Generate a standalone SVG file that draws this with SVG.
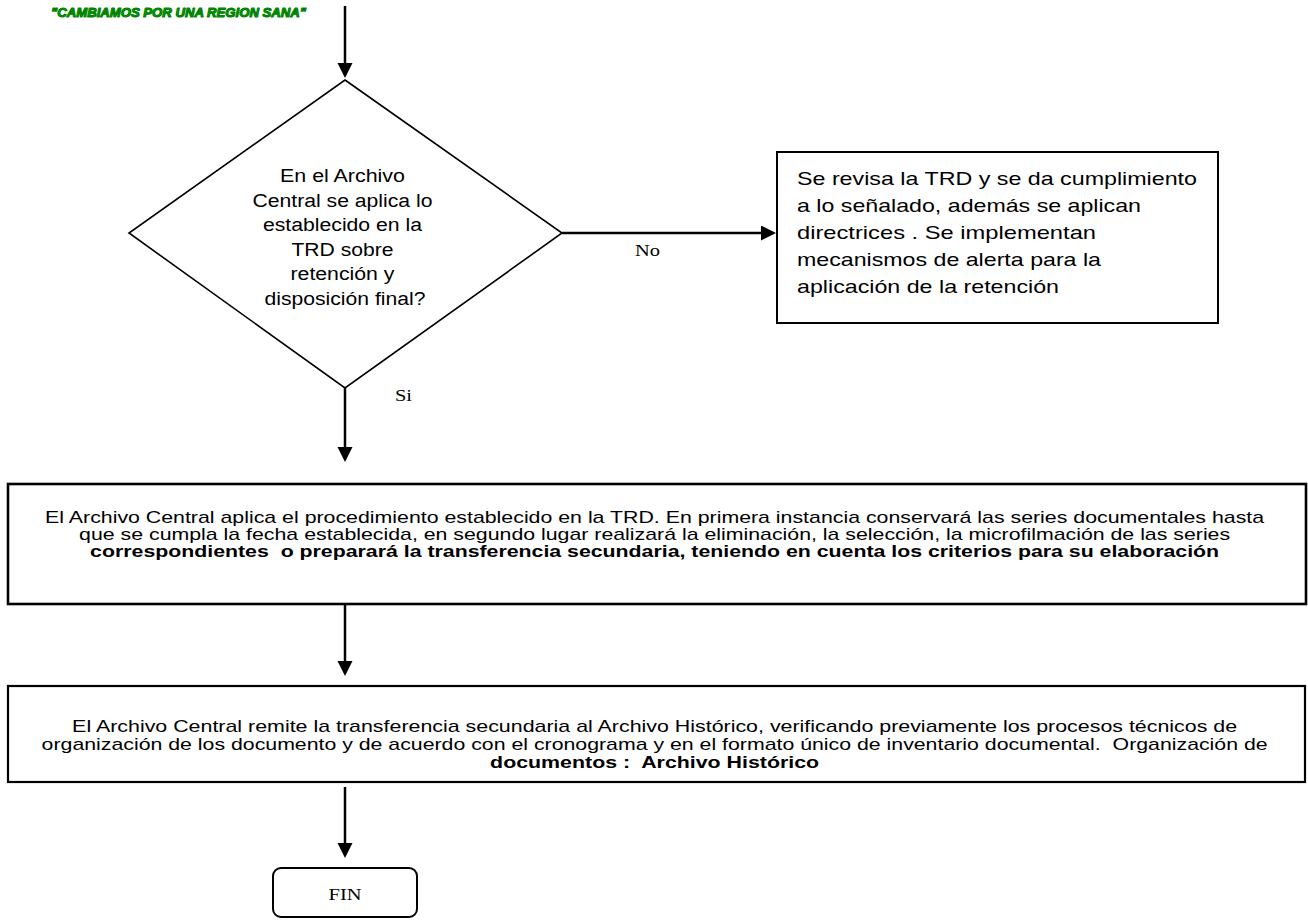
<svg xmlns="http://www.w3.org/2000/svg" width="1308" height="924" viewBox="0 0 1308 924">
<style>
.sans{font-family:"Liberation Sans",Arial,sans-serif;fill:#000}
.serif{font-family:"Liberation Serif","Times New Roman",serif;fill:#000}
.mid{text-anchor:middle}
.b{font-weight:bold}
.box{fill:#fff;stroke:#000}
.conn{stroke:#000;stroke-width:2.5;fill:none}
</style>
<defs>
<marker id="arr" markerUnits="userSpaceOnUse" markerWidth="16" markerHeight="16" refX="12" refY="7.5" orient="auto">
<path d="M0,0 L15,7.5 L0,15 Z" fill="#000"/>
</marker>
</defs>
<rect width="1308" height="924" fill="#fff"/>
<g id="title">
<text x="51" y="17" textLength="255" lengthAdjust="spacingAndGlyphs" style="font-family:'Liberation Sans',Arial,sans-serif;font-weight:bold;font-style:italic;font-size:13px;fill:#00A000;stroke:#008000;stroke-width:1.1;stroke-linejoin:round">"CAMBIAMOS POR UNA REGION SANA"</text>
</g>
<g id="connectors">
<line class="conn" x1="345" y1="6" x2="345" y2="75" marker-end="url(#arr)"/>
<line class="conn" x1="562" y1="233" x2="773" y2="233" marker-end="url(#arr)"/>
<line class="conn" x1="345" y1="388" x2="345" y2="459" marker-end="url(#arr)"/>
<line class="conn" x1="345" y1="604" x2="345" y2="673" marker-end="url(#arr)"/>
<line class="conn" x1="345" y1="787" x2="345" y2="855" marker-end="url(#arr)"/>
<text class="serif" x="635" y="256" font-size="17" textLength="25" lengthAdjust="spacingAndGlyphs">No</text>
<text class="serif" x="395" y="401" font-size="17" textLength="17" lengthAdjust="spacingAndGlyphs">Si</text>
</g>
<g id="decision">
<polygon class="box" stroke-width="1.6" points="345,80 562,233 345,388 129,233"/>
<text class="sans mid" font-size="18">
<tspan x="345" y="182" textLength="125" lengthAdjust="spacingAndGlyphs">En el Archivo</tspan>
<tspan x="345" y="206.5" textLength="180" lengthAdjust="spacingAndGlyphs">Central se aplica lo</tspan>
<tspan x="345" y="231" textLength="159" lengthAdjust="spacingAndGlyphs">establecido en la</tspan>
<tspan x="345" y="255.5" textLength="102" lengthAdjust="spacingAndGlyphs">TRD sobre</tspan>
<tspan x="345" y="280" textLength="104" lengthAdjust="spacingAndGlyphs">retención y</tspan>
<tspan x="345" y="304.5" textLength="161" lengthAdjust="spacingAndGlyphs">disposición final?</tspan>
</text>
</g>
<g id="revision">
<rect class="box" stroke-width="2" x="777" y="152" width="441" height="171"/>
<text class="sans" font-size="19">
<tspan x="797" y="185" textLength="400" lengthAdjust="spacingAndGlyphs">Se revisa la TRD y se da cumplimiento</tspan>
<tspan x="797" y="212" textLength="344" lengthAdjust="spacingAndGlyphs">a lo señalado, además se aplican</tspan>
<tspan x="797" y="239" textLength="299" lengthAdjust="spacingAndGlyphs">directrices .  Se implementan</tspan>
<tspan x="797" y="266" textLength="304" lengthAdjust="spacingAndGlyphs">mecanismos de alerta para la</tspan>
<tspan x="797" y="293" textLength="262" lengthAdjust="spacingAndGlyphs">aplicación de la retención</tspan>
</text>
</g>
<g id="procedimiento">
<rect class="box" stroke-width="2.6" x="8" y="484" width="1298" height="120"/>
<text class="sans mid" font-size="17" xml:space="preserve">
<tspan x="657" y="523" textLength="1219" lengthAdjust="spacingAndGlyphs">El Archivo Central aplica el procedimiento establecido en la TRD. En primera instancia conservará las series documentales hasta</tspan>
<tspan x="657" y="540" textLength="1151" lengthAdjust="spacingAndGlyphs">que se cumpla la fecha establecida, en segundo lugar realizará la eliminación, la selección, la microfilmación de las series</tspan>
<tspan class="b" x="657" y="557" textLength="1129" lengthAdjust="spacingAndGlyphs">correspondientes  o preparará la transferencia secundaria, teniendo en cuenta los criterios para su elaboración</tspan>
</text>
</g>
<g id="transferencia">
<rect class="box" stroke-width="2.2" x="8" y="686" width="1297" height="96"/>
<text class="sans mid" font-size="17" xml:space="preserve">
<tspan x="657" y="732" textLength="1165" lengthAdjust="spacingAndGlyphs">El Archivo Central remite la transferencia secundaria al Archivo Histórico, verificando previamente los procesos técnicos de</tspan>
<tspan x="657" y="750" textLength="1226" lengthAdjust="spacingAndGlyphs">organización de los documento y de acuerdo con el cronograma y en el formato único de inventario documental.  Organización de</tspan>
<tspan class="b" x="657" y="768" textLength="329" lengthAdjust="spacingAndGlyphs">documentos :  Archivo Histórico</tspan>
</text>
</g>
<g id="fin">
<rect class="box" stroke-width="2" x="273" y="868" width="144" height="49" rx="8"/>
<text class="serif mid" x="345" y="900" font-size="17" textLength="33" lengthAdjust="spacingAndGlyphs">FIN</text>
</g>
</svg>
